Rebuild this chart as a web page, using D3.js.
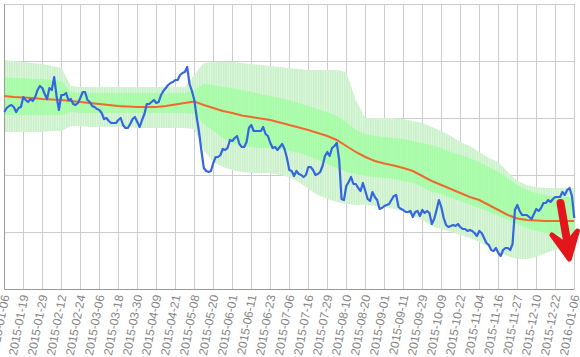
<!DOCTYPE html>
<html><head><meta charset="utf-8">
<script src="https://cdn.jsdelivr.net/npm/d3@7"></script>
<style>html,body{margin:0;padding:0;background:#fff;} svg{display:block;}</style>
</head><body>
<svg id="chart" width="580" height="357"></svg>
<script>
// ---- data ----
const tickLabels = ["2015-01-06","2015-01-19","2015-01-29","2015-02-12","2015-02-24","2015-03-06","2015-03-18","2015-03-30","2015-04-09","2015-04-21","2015-05-08","2015-05-20","2015-06-01","2015-06-11","2015-06-23","2015-07-06","2015-07-16","2015-07-29","2015-08-10","2015-08-20","2015-09-01","2015-09-11","2015-09-29","2015-10-09","2015-10-22","2015-11-04","2015-11-16","2015-11-27","2015-12-10","2015-12-22","2016-01-06"];
const tickEvery = 8;

const price = [
17.7,18.1,18.3,18.4,18.2,17.7,18.1,18.2,19.2,18.9,
18.7,19.0,18.8,19.2,19.9,20.3,20.1,19.5,19.0,20.1,
19.9,21.2,19.3,17.9,19.4,19.4,19.6,18.9,19.0,18.5,
18.4,18.6,19.1,19.7,19.7,18.9,18.7,18.3,18.2,18.0,
17.9,17.6,17.0,17.1,16.8,16.6,16.6,16.6,16.9,17.1,
16.4,16.1,16.1,16.5,17.0,17.2,16.7,16.2,16.9,17.5,
18.5,18.5,18.7,18.9,18.6,18.7,19.4,19.8,20.1,20.4,
20.6,20.7,20.9,20.9,21.4,21.6,21.7,22.2,20.5,19.8,
18.9,17.2,15.7,13.8,12.1,11.8,11.7,11.8,12.6,13.2,
13.2,13.4,14.0,13.9,14.1,14.9,14.8,15.1,15.3,14.5,
14.2,14.2,14.7,16.1,16.4,15.8,15.8,15.8,15.8,16.2,
15.5,15.3,14.6,14.1,14.2,13.9,14.2,14.5,14.0,13.1,
11.9,11.8,11.3,11.8,11.5,11.4,11.2,11.4,12.2,12.2,
11.9,11.4,11.5,11.7,12.3,13.3,13.7,13.3,14.1,14.3,
14.6,12.9,9.0,8.9,10.3,10.7,11.2,10.5,10.5,10.1,
9.8,10.6,9.8,9.0,8.8,9.7,9.2,8.9,8.0,8.1,
8.3,8.4,8.5,8.9,9.3,9.4,8.2,8.0,7.9,7.7,
7.7,7.8,7.2,7.7,7.8,7.3,7.9,7.6,7.8,7.6,
6.5,7.0,7.9,8.9,8.2,7.1,6.4,6.2,6.3,6.4,
6.3,6.5,6.2,6.0,6.0,5.8,5.9,5.8,5.6,5.3,
5.8,5.6,5.1,4.6,4.4,3.9,3.8,4.1,3.6,3.3,
3.9,4.1,4.1,3.9,4.5,7.9,8.4,7.8,7.4,7.4,
7.4,7.2,7.0,7.5,8.0,7.8,8.1,8.6,8.6,8.9,
8.7,9.0,9.2,9.2,9.2,9.7,9.4,9.9,10.1,9.3,
7.1];

// band values sampled every 4 trading days
const bandEvery = 4;
const maLine = [19.3,19.2,19.15,19.1,19.0,18.95,18.9,18.8,18.7,18.6,18.5,18.4,18.3,18.25,18.2,18.2,18.2,18.3,18.45,18.6,18.75,18.4,18.1,17.8,17.6,17.35,17.2,17.05,16.9,16.65,16.4,16.15,15.9,15.6,15.3,14.9,14.3,13.7,13.2,12.8,12.55,12.35,12.1,11.8,11.3,10.8,10.4,10.0,9.6,9.2,8.9,8.4,7.9,7.4,7.05,6.9,6.85,6.8,6.8,6.8,6.8];
const outerUpper = [22.9,22.8,22.7,22.6,22.5,22.3,22.1,20.3,20.2,20.2,20.2,20.2,20.2,20.2,20.2,20.2,20.2,20.2,20.2,20.2,21.4,22.6,22.7,22.7,22.7,22.6,22.5,22.4,22.3,22.2,22.1,22.0,21.9,21.9,21.9,21.9,21.7,18.9,17.1,17.1,17.1,17.1,17.0,16.8,16.6,16.2,15.8,15.3,14.7,14.3,13.7,13.1,12.7,11.7,10.8,10.4,10.2,10.1,10.1,10.1,10.1];
const innerUpper = [21.2,21.1,21.1,21.0,21.0,20.9,20.8,19.7,19.6,19.6,19.6,19.6,19.6,19.6,19.6,19.6,19.6,19.6,19.6,19.6,19.9,20.5,20.4,20.2,20.1,19.9,19.7,19.5,19.3,19.1,18.9,18.6,18.3,18.0,17.7,17.3,16.7,15.9,15.5,15.3,15.2,15.1,15.0,14.8,14.6,14.4,14.1,13.7,13.4,13.1,12.7,12.2,11.7,11.1,10.4,9.9,9.6,9.4,9.3,9.2,9.2];
const innerLower = [17.4,17.4,17.4,17.4,17.4,17.4,17.4,17.7,17.6,17.6,17.6,17.6,17.6,17.6,17.6,17.6,17.6,17.6,17.6,17.6,17.5,16.5,15.8,15.1,14.6,14.3,14.2,14.1,14.1,14.0,13.8,13.6,13.3,12.9,12.5,12.1,11.7,11.5,11.3,11.2,11.1,11.0,10.8,10.6,10.2,9.7,9.5,9.1,8.8,8.4,8.1,7.7,7.3,6.9,6.5,6.1,5.8,5.6,5.5,5.4,5.4];
const outerLower = [15.7,15.7,15.7,15.7,15.7,15.8,15.8,16.3,16.3,16.2,16.2,16.2,16.2,16.2,16.1,16.1,16.1,16.1,16.1,16.1,16.0,13.9,12.7,12.2,11.9,11.7,11.6,11.6,11.6,11.4,11.2,10.7,10.0,9.4,9.0,8.7,8.5,8.4,8.4,8.3,8.2,8.0,7.8,7.4,6.9,6.3,6.0,5.7,5.4,5.1,4.7,4.2,3.7,3.3,3.0,3.0,3.2,3.6,3.9,4.1,4.3];

const yGrid = [0, 5.7, 11.4, 17.1, 22.8, 28.5];
// hand-drawn red arrow annotation, in (day index, value)
const arrowTail = [234.2, 8.6], arrowNeck = [236.8, 5.0], arrowTip = [237.9, 3.0], arrowLeft = [230.6, 5.4], arrowRight = [241.3, 5.8];

// ---- chart ----
const W = 580, H = 357;
const m = {left: 4.3, right: 5.7, top: 4, bottom: 68};
const svg = d3.select("#chart");
const x = d3.scaleLinear().domain([0, price.length - 1]).range([m.left, W - m.right]);
const y = d3.scaleLinear().domain([0, 28.5]).range([H - m.bottom, m.top]);
const step = x(1) - x(0);

const defs = svg.append("defs");
function stripe(id, base, line, frac) {
  const p = defs.append("pattern").attr("id", id).attr("patternUnits", "userSpaceOnUse")
    .attr("x", x(0)).attr("y", 0).attr("width", step).attr("height", 20);
  p.append("rect").attr("width", step).attr("height", 20).attr("fill", base);
  p.append("rect").attr("width", step * frac).attr("height", 20).attr("fill", line);
}
stripe("outerFill", "#e0f7e0", "#c8f0c8", 0.6);
stripe("innerFill", "#b0fdb0", "#a8fba8", 0.6);

// grid
const tickIdx = tickLabels.map((d, k) => k * tickEvery);
svg.append("g").selectAll("line").data(yGrid).join("line")
  .attr("x1", x(0)).attr("x2", x(price.length - 1))
  .attr("y1", d => Math.round(y(d)) + 0.5).attr("y2", d => Math.round(y(d)) + 0.5)
  .attr("stroke", "#cccccc").attr("stroke-width", 1);
svg.append("g").selectAll("line").data(tickIdx).join("line")
  .attr("x1", d => Math.round(x(d)) + 0.5).attr("x2", d => Math.round(x(d)) + 0.5)
  .attr("y1", y(28.5)).attr("y2", y(0))
  .attr("stroke", "#cccccc").attr("stroke-width", 1);

// bands
const bx = (d, j) => x(j * bandEvery);
const outerArea = d3.area().x(bx).y0((d, j) => y(outerLower[j])).y1((d, j) => y(outerUpper[j]));
const innerArea = d3.area().x(bx).y0((d, j) => y(innerLower[j])).y1((d, j) => y(innerUpper[j]));
svg.append("path").datum(outerUpper).attr("d", outerArea).attr("fill", "url(#outerFill)");
svg.append("path").datum(innerUpper).attr("d", innerArea).attr("fill", "url(#innerFill)");

// axes lines
svg.append("line").attr("x1", Math.round(x(0)) + 0.5).attr("x2", Math.round(x(0)) + 0.5)
  .attr("y1", y(28.5)).attr("y2", y(0)).attr("stroke", "#999").attr("stroke-width", 1);
svg.append("line").attr("x1", x(0)).attr("x2", x(price.length - 1))
  .attr("y1", Math.round(y(0)) + 0.5).attr("y2", Math.round(y(0)) + 0.5).attr("stroke", "#999").attr("stroke-width", 1);

// moving average
svg.append("path").datum(maLine)
  .attr("d", d3.line().x(bx).y(d => y(d)))
  .attr("fill", "none").attr("stroke", "#ef6a2e").attr("stroke-width", 2);

// price
svg.append("path").datum(price)
  .attr("d", d3.line().x((d, i) => x(i)).y(d => y(d)))
  .attr("fill", "none").attr("stroke", "#3466e2").attr("stroke-width", 2.2).attr("stroke-linejoin", "round");

// x labels
svg.append("g").selectAll("text").data(tickLabels).join("text")
  .attr("transform", (d, k) => `translate(${x(tickIdx[k]) + 1},295) rotate(-79)`)
  .attr("text-anchor", "end").attr("dy", "0.35em")
  .attr("font-family", "'Liberation Sans', Arial, sans-serif").attr("font-size", 12)
  .attr("fill", "#858585").text(d => d);

// red arrow
const P = p => [x(p[0]), y(p[1])];
const red = "#e3161c";
svg.append("path").attr("d", d3.line()([P(arrowTail), P(arrowNeck)]))
  .attr("stroke", red).attr("stroke-width", 8).attr("stroke-linecap", "round").attr("fill", "none");
svg.append("path").attr("d", d3.line()([P(arrowLeft), P(arrowTip), P(arrowRight), P([236.5, 4.4])]) + "Z")
  .attr("fill", red).attr("stroke", red).attr("stroke-width", 5).attr("stroke-linejoin", "round");
</script>
</body></html>
